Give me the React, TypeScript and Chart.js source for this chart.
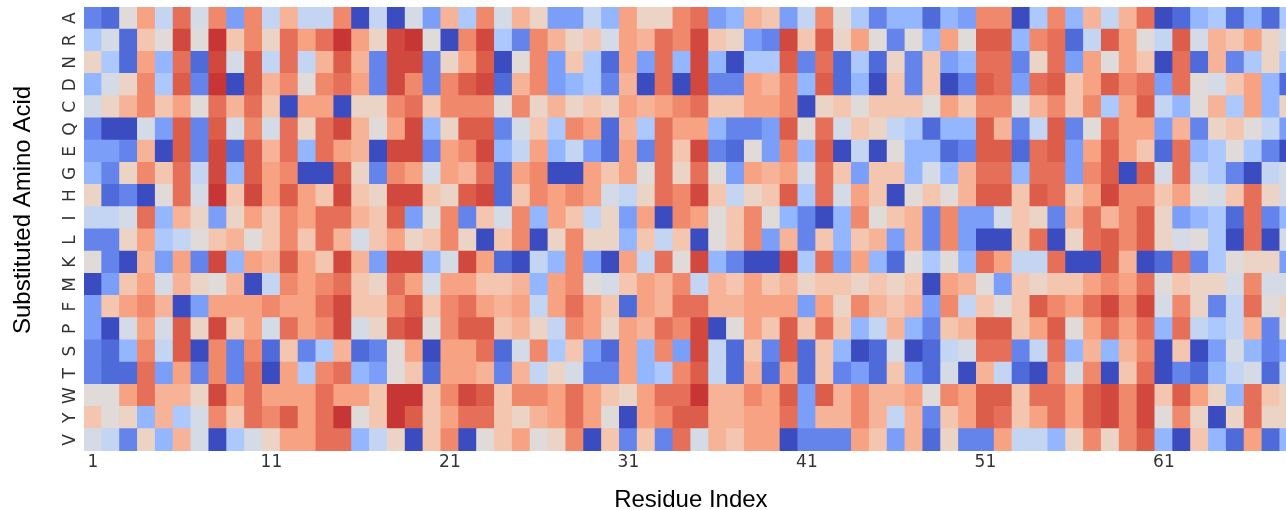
import React, { useEffect, useRef } from "react";
import { Chart, registerables } from "chart.js";

Chart.register(...registerables);

// ---- data -------------------------------------------------------------
const residueLabels: string[] = Array.from({ length: 68 }, (_, i) => String(i + 1));
const xTickLabels = ["1", "11", "21", "31", "41", "51", "61"];
const aminoAcids = ["A", "R", "N", "D", "C", "Q", "E", "G", "H", "I", "L", "K", "M", "F", "P", "S", "T", "W", "Y", "V"];
const xTitle = "Residue Index";
const yTitle = "Substituted Amino Acid";

const rowA = [-0.74, -0.86, 0.02, 0.46, -0.18, 0.69, -0.06, 0.58, -0.6, 0.58, -0.18, 0.36, -0.18, -0.18, 0.58, -1, -0.18, -1, -0.06, -0.6, 0.36, -0.32, 0.58, -0.06, 0.36, 0.12, -0.6, -0.6, -0.18, -0.46, 0.46, 0.12, 0.12, 0.58, 0.69, -0.6, -0.46, 0.36, 0.24, -0.6, -0.18, 0.58, 0.02, -0.32, -0.74, -0.46, -0.46, -0.86, -0.46, -0.6, 0.58, 0.58, -1, -0.32, 0.58, -0.46, 0.36, -0.18, 0.36, 0.69, -1, -0.86, -0.46, -0.32, -0.86, -0.46, -0.86, -0.32];
const rowR = [-0.32, -0.06, -0.86, 0.24, 0.02, 0.84, 0.02, 0.9, 0.24, 0.58, 0.12, 0.69, 0.46, 0.69, 0.9, 0.46, 0.12, 0.84, 0.9, 0.02, -1, 0.58, 0.84, -0.32, -0.74, 0.58, 0.36, 0.12, 0.24, -0.06, 0.46, 0.36, 0.69, 0.58, 0.84, 0.24, 0.12, -0.6, -0.74, 0.84, 0.24, 0.76, 0.12, 0.46, 0.02, -0.74, 0.02, -0.46, 0.46, 0.02, 0.76, 0.76, -0.46, 0.58, 0.69, -0.86, -0.18, 0.76, 0.46, 0.02, -0.18, 0.76, -0.06, 0.36, 0.24, 0.46, 0.12, -0.06];
const rowN = [0.12, -0.32, -0.86, 0.46, -0.46, 0.69, -0.86, 0.84, -0.06, 0.76, -0.18, 0.69, -0.18, 0.36, 0.76, 0.36, -0.74, 0.84, 0.84, -0.74, 0.12, 0.46, 0.76, -1, 0.02, 0.58, -0.6, 0.24, -0.32, -0.86, 0.46, -0.6, 0.69, -0.46, 0.84, -0.46, -1, -0.32, -0.32, 0.76, -0.74, 0.69, -0.86, -0.32, -0.86, 0.12, -0.74, 0.24, -0.6, -0.46, 0.69, 0.69, -0.74, 0.12, 0.69, -0.6, 0.46, 0.02, 0.46, 0.24, -1, 0.69, -0.86, 0.36, -0.74, -0.32, 0.12, -0.32];
const rowD = [-0.46, -0.06, 0.12, 0.58, -0.32, 0.76, -0.74, 0.9, -1, 0.76, 0.36, 0.58, 0.02, 0.58, 0.69, 0.46, -0.74, 0.84, 0.58, -0.74, 0.58, 0.76, 0.84, -0.86, 0.36, 0.58, -0.6, -0.46, -0.32, -0.74, 0.36, -1, 0.69, -1, 0.84, -0.74, -0.74, 0.46, 0.36, 0.58, -0.46, 0.76, -0.86, -0.46, -1, 0.24, -0.74, 0.24, -1, -0.74, 0.76, 0.69, -0.6, 0.69, 0.76, 0.24, 0.46, 0.76, 0.58, 0.69, -0.6, 0.69, 0.02, -0.06, 0.24, 0.46, -0.46, -0.86];
const rowC = [-0.06, 0.12, 0.36, 0.58, 0.24, 0.46, 0.02, 0.69, 0.36, 0.69, 0.24, -1, 0.46, 0.46, -1, 0.12, 0.12, 0.58, 0.69, 0.24, 0.58, 0.58, 0.58, 0.02, 0.58, 0.12, 0.36, 0.12, 0.24, 0.12, 0.46, 0.36, 0.46, 0.58, 0.69, 0.24, 0.24, 0.46, 0.46, 0.58, -1, 0.12, 0.24, 0.02, 0.24, 0.24, 0.24, 0.02, 0.46, 0.24, 0.58, 0.58, 0.02, 0.36, 0.58, 0.24, 0.58, -0.32, 0.46, 0.76, -0.18, -0.46, 0.02, 0.36, -0.32, 0.46, -0.46, 0.12];
const rowQ = [-0.74, -1, -1, -0.06, -0.6, 0.76, -0.74, 0.76, -0.06, 0.58, -0.06, 0.69, 0.12, 0.69, 0.84, 0.36, 0.02, 0.46, 0.84, -0.46, 0.12, 0.76, 0.76, -0.74, -0.06, 0.24, -0.32, 0.58, 0.46, -0.86, 0.36, -0.32, 0.69, 0.46, 0.46, -0.46, -0.74, -0.74, -0.6, 0.76, 0.02, 0.69, -0.06, 0.24, 0.12, -0.18, -0.32, -0.86, -0.46, -0.46, 0.76, 0.36, -0.74, -0.18, 0.76, -0.74, 0.02, 0.69, 0.46, 0.46, -0.6, 0.36, -0.74, 0.12, 0.24, 0.02, -0.18, -0.6];
const rowE = [-0.6, -0.6, -0.74, 0.36, -1, 0.76, -0.74, 0.84, -0.86, 0.76, 0.36, 0.69, -0.46, 0.69, 0.46, 0.36, -1, 0.84, 0.84, -0.74, 0.46, 0.58, 0.84, -0.46, -0.18, 0.46, -0.46, -0.18, -0.6, -0.86, 0.46, -0.74, 0.69, 0.24, 0.84, -0.74, -0.86, 0.02, -0.6, 0.58, -0.46, 0.76, -1, -0.18, -1, 0.02, -0.46, -0.46, -0.86, -0.74, 0.76, 0.76, -0.86, 0.69, 0.76, -0.6, 0.46, 0.76, 0.46, 0.24, -0.86, 0.69, -0.46, -0.32, 0.02, -0.32, -0.74, -1];
const rowG = [-0.46, -0.74, 0.12, 0.58, 0.24, 0.69, -0.18, 0.84, -0.46, 0.76, 0.46, 0.58, -1, -1, 0.76, 0.12, -0.74, 0.58, 0.46, -0.06, 0.46, 0.36, 0.69, -0.86, 0.46, 0.58, -1, -1, 0.46, 0.24, 0.46, 0.02, 0.69, 0.12, 0.69, 0.02, -0.6, 0.46, 0.36, 0.46, -0.06, 0.69, 0.24, -0.6, 0.24, 0.24, -0.46, -0.06, -0.46, 0.36, 0.69, 0.69, -0.46, 0.69, 0.69, -0.6, 0.58, 0.76, -1, 0.76, -0.06, 0.69, -0.18, -0.32, -0.74, -1, -0.18, -0.06];
const rowH = [0.12, -0.86, -0.74, -1, 0.02, 0.69, -0.06, 0.9, 0.24, 0.84, 0.46, 0.76, 0.46, 0.24, 0.84, 0.24, 0.12, 0.84, 0.84, 0.24, 0.12, 0.76, 0.84, -0.86, 0.24, 0.58, 0.46, 0.58, 0.46, -0.06, -0.18, 0.12, 0.69, 0.58, 0.84, 0.24, -0.18, 0.12, 0.24, 0.76, -0.32, 0.69, -0.06, 0.46, 0.24, -1, 0.02, 0.24, 0.02, 0.36, 0.76, 0.76, 0.24, 0.76, 0.69, 0.24, 0.46, 0.84, 0.58, 0.58, 0.24, 0.46, 0.02, -0.06, 0.24, 0.69, 0.12, -0.06];
const rowI = [-0.18, -0.18, -0.06, 0.69, -0.46, 0.36, 0.12, -0.6, 0.12, 0.46, 0.24, 0.58, 0.46, 0.69, 0.69, 0.36, 0.24, 0.76, -0.6, 0.02, 0.58, -0.74, 0.24, -0.06, 0.58, -0.46, 0.46, 0.24, -0.18, 0.12, -0.6, 0.46, -1, 0.58, 0.46, 0.02, 0.24, 0.58, 0.02, -0.46, -0.74, -1, -0.46, 0.58, 0.02, 0.24, 0.36, -0.74, 0.58, -0.6, -0.6, -0.06, 0.24, 0.12, -0.74, 0.36, 0.69, 0.36, 0.58, 0.76, 0.12, -0.6, -0.46, -0.32, -0.86, 0.69, -0.74, -0.46];
const rowL = [-0.74, -0.74, 0.12, 0.46, -0.32, -0.18, 0.02, 0.24, 0.36, 0.02, 0.24, 0.58, 0.24, 0.69, 0.36, -0.06, 0.24, 0.46, 0.12, 0.24, 0.58, 0.12, -1, 0.24, 0.58, -1, 0.12, 0.58, 0.12, 0.12, -0.46, 0.24, -0.18, 0.24, -1, 0.02, 0.24, 0.58, -0.6, 0.36, -0.74, 0.24, -0.46, 0.24, 0.36, -0.6, 0.36, -0.74, 0.58, -0.6, -1, -1, 0.24, 0.69, -1, 0.12, 0.69, 0.76, 0.58, 0.76, 0.12, -0.06, 0.02, -0.32, -1, 0.69, -1, -0.06];
const rowK = [0.02, -0.74, -1, 0.36, -0.6, 0.46, -0.74, 0.84, -0.46, 0.46, 0.36, 0.76, 0.46, 0.24, 0.84, 0.36, -0.6, 0.84, 0.84, -0.46, -0.06, 0.84, 0.46, -0.86, -1, -0.18, -0.46, 0.58, -0.6, -1, 0.46, -0.18, 0.69, 0.02, 0.84, -0.46, -0.74, -1, -1, 0.84, -0.32, 0.69, -0.6, 0.46, -0.46, -0.86, 0.02, -0.32, 0.02, -0.46, 0.69, 0.46, -0.18, -0.18, 0.69, -1, -1, 0.76, 0.36, -1, -0.86, 0.69, -0.74, -0.32, 0.02, 0.12, 0.12, -0.6];
const rowM = [-1, -0.6, 0.24, 0.46, -0.06, 0.36, 0.12, 0.02, 0.36, -1, -0.18, 0.58, 0.46, 0.58, 0.69, 0.24, 0.12, 0.69, 0.46, -0.06, 0.46, 0.46, 0.24, 0.24, 0.36, -0.46, 0.46, 0.58, 0.02, -0.06, 0.24, 0.46, 0.36, 0.58, -0.18, 0.36, 0.24, 0.46, 0.24, 0.36, 0.12, 0.24, 0.24, 0.12, 0.24, 0.12, 0.24, -1, 0.46, 0.36, 0.02, -0.6, 0.24, 0.12, 0.24, 0.24, 0.46, 0.58, 0.46, 0.69, 0.02, 0.24, 0.12, 0.12, -0.06, 0.58, -0.06, -0.06];
const rowF = [-0.6, 0.24, 0.46, 0.58, 0.36, -1, -0.6, 0.46, 0.46, 0.46, 0.58, 0.46, 0.46, 0.69, 0.84, 0.24, 0.24, 0.58, 0.76, 0.24, 0.58, 0.69, 0.46, 0.36, 0.46, -0.18, 0.46, 0.69, 0.46, 0.24, -0.86, 0.46, 0.36, 0.69, 0.69, 0.36, 0.36, 0.46, 0.46, 0.46, -0.6, 0.46, 0.12, 0.58, 0.36, 0.24, 0.36, -0.6, 0.58, -0.18, 0.24, 0.02, 0.24, 0.76, 0.58, 0.46, 0.69, 0.84, 0.58, 0.84, -0.06, 0.58, 0.12, -0.74, -0.18, 0.69, 0.02, 0.12];
const rowP = [-0.6, -1, -0.06, 0.46, -0.06, 0.76, 0.12, 0.84, 0.24, 0.46, -0.06, 0.69, 0.46, 0.58, 0.84, -0.06, 0.12, 0.76, 0.84, 0.02, 0.58, 0.76, 0.76, 0.24, 0.36, 0.12, -0.18, 0.58, 0.46, 0.12, 0.46, 0.36, 0.69, 0.58, 0.84, -1, 0.02, 0.46, 0.24, 0.76, 0.24, 0.69, 0.24, -0.46, -0.18, 0.36, -0.46, -0.74, 0.24, 0.36, 0.76, 0.76, 0.24, 0.46, 0.76, 0.02, 0.46, 0.69, 0.46, 0.69, -0.46, 0.69, -0.18, -0.32, -0.18, 0.36, -0.74, 0.02];
const rowS = [-0.74, -0.86, -0.46, 0.58, -0.18, 0.76, -1, 0.58, -0.74, 0.58, -0.86, 0.24, -0.74, -0.32, 0.36, -0.86, -0.74, 0.02, 0.46, -1, 0.46, 0.46, 0.69, -0.86, -0.06, 0.58, -0.32, 0.24, -0.6, -0.86, 0.46, -0.46, 0.58, -0.6, 0.84, -0.18, -0.86, 0.24, -0.74, 0.76, -0.86, 0.24, -0.46, -1, -0.86, -0.06, -1, -0.86, -0.18, -0.06, 0.69, 0.69, -0.74, -0.18, 0.69, -0.46, 0.36, -0.46, 0.36, 0.58, -1, 0.24, -1, -0.6, -0.06, -0.46, -0.74, -0.6];
const rowT = [-0.74, -0.86, -0.86, 0.69, -0.6, 0.46, -0.74, 0.58, -0.74, 0.69, -1, 0.46, -0.32, 0.58, 0.69, -0.46, -0.6, 0.02, 0.24, -0.86, 0.46, 0.46, 0.36, -0.74, 0.36, -0.18, 0.12, -0.06, -0.74, -0.74, 0.46, -0.46, -0.32, 0.58, 0.76, -0.18, -0.86, 0.36, -0.86, 0.46, -0.86, 0.24, -0.74, -0.6, -0.86, 0.24, -0.6, -0.86, -0.06, -1, 0.36, -0.18, -0.86, -1, 0.58, -0.06, 0.58, -1, 0.24, 0.69, -1, -0.74, -0.86, -0.46, -0.18, -0.06, -0.86, -0.18];
const rowW = [0.02, 0.02, 0.46, 0.69, 0.36, 0.36, 0.12, 0.84, 0.46, 0.69, 0.46, 0.46, 0.46, 0.69, 0.46, 0.46, 0.24, 0.9, 0.9, 0.24, 0.58, 0.84, 0.76, 0.24, 0.58, 0.58, 0.46, 0.69, 0.46, 0.24, 0.12, 0.46, 0.69, 0.69, 0.9, 0.36, 0.36, 0.58, 0.46, 0.76, -0.6, 0.76, 0.36, 0.58, 0.36, 0.36, 0.46, 0.02, 0.58, 0.46, 0.76, 0.76, 0.24, 0.69, 0.69, 0.46, 0.76, 0.84, 0.58, 0.84, 0.24, 0.76, 0.46, 0.12, -0.46, 0.69, 0.24, 0.12];
const rowY = [0.24, 0.02, 0.12, -0.46, 0.36, -0.32, -0.06, 0.58, 0.24, 0.69, 0.58, 0.76, 0.46, 0.69, 0.9, 0.02, 0.24, 0.9, 0.76, 0.24, 0.46, 0.69, 0.69, 0.24, 0.12, 0.36, 0.46, 0.69, 0.46, 0.02, -1, 0.46, 0.58, 0.76, 0.76, 0.36, 0.36, 0.46, 0.46, 0.69, -0.6, 0.36, 0.36, 0.58, 0.36, -0.18, 0.36, -0.74, 0.24, 0.46, 0.76, 0.69, 0.24, 0.46, 0.69, 0.46, 0.76, 0.84, 0.58, 0.84, 0.02, 0.58, 0.12, -1, 0.12, 0.69, 0.12, 0.12];
const rowV = [-0.06, -0.18, -0.74, 0.12, -0.46, 0.36, -0.06, -1, -0.32, -0.06, 0.12, 0.46, 0.46, 0.69, 0.69, -0.46, -0.18, 0.12, -1, 0.24, 0.58, -1, 0.02, 0.24, 0.46, 0.02, 0.12, 0.58, -1, 0.24, -0.74, 0.24, -0.74, 0.69, -0.06, 0.36, 0.24, 0.46, 0.46, -1, -0.74, -0.74, -0.74, 0.46, 0.24, -0.6, 0.36, -0.86, 0.12, -0.74, -0.74, 0.46, -0.18, -0.18, -0.46, 0.12, 0.58, 0.12, 0.58, 0.76, -0.46, -1, 0.24, -0.46, -0.86, 0.46, -0.86, -0.46];

const rows = [rowA, rowR, rowN, rowD, rowC, rowQ, rowE, rowG, rowH, rowI, rowL, rowK, rowM, rowF, rowP, rowS, rowT, rowW, rowY, rowV];
const vMin = -1;
const vMax = 1;

// matplotlib "coolwarm" colormap control points
const COOLWARM: number[][] = [
  [59, 76, 192], [68, 90, 204], [77, 104, 215], [87, 117, 225], [98, 130, 234],
  [108, 142, 241], [119, 154, 247], [130, 165, 251], [141, 176, 254], [152, 185, 255],
  [163, 194, 255], [174, 201, 253], [184, 208, 249], [194, 213, 244], [204, 217, 238],
  [213, 219, 230], [221, 221, 221], [229, 216, 209], [236, 211, 197], [241, 204, 185],
  [245, 196, 173], [247, 187, 160], [247, 177, 148], [247, 166, 135], [244, 154, 123],
  [241, 141, 111], [236, 127, 99], [229, 112, 88], [222, 96, 77], [213, 80, 66],
  [203, 62, 56], [192, 40, 47], [180, 4, 38],
];

function coolwarm(t: number): string {
  const c = Math.max(0, Math.min(1, t)) * (COOLWARM.length - 1);
  const i = Math.min(COOLWARM.length - 2, Math.floor(c));
  const f = c - i;
  const a = COOLWARM[i];
  const b = COOLWARM[i + 1];
  const r = Math.round(a[0] + (b[0] - a[0]) * f);
  const g = Math.round(a[1] + (b[1] - a[1]) * f);
  const bl = Math.round(a[2] + (b[2] - a[2]) * f);
  return `rgb(${r},${g},${bl})`;
}

const yTitlePlugin = {
  id: "yTitleDraw",
  afterDraw(chart: any) {
    const ctx = chart.ctx;
    ctx.save();
    ctx.translate(30, 210);
    ctx.rotate(-Math.PI / 2);
    ctx.font = '24px "Liberation Sans", Arial, sans-serif';
    ctx.fillStyle = "#000";
    ctx.textAlign = "center";
    ctx.textBaseline = "alphabetic";
    ctx.fillText(yTitle, 0, 0);
    ctx.restore();
  },
};

export default function App() {
  const ref = useRef<HTMLCanvasElement | null>(null);

  useEffect(() => {
    if (!ref.current) return;
    const nRows = aminoAcids.length;
    const datasets = aminoAcids
      .map((aa, r) => ({
        label: aa,
        data: rows[r].map(() => 1),
        backgroundColor: rows[r].map((v) => coolwarm((v - vMin) / (vMax - vMin))),
        borderWidth: 0,
        barPercentage: 1,
        categoryPercentage: 1,
        inflateAmount: 0.5,
      }))
      .reverse();

    const tickFont = { family: '"DejaVu Sans", sans-serif', size: 17 };

    const chart = new Chart(ref.current, {
      type: "bar",
      data: { labels: residueLabels, datasets },
      plugins: [yTitlePlugin],
      options: {
        responsive: false,
        animation: false,
        devicePixelRatio: 1,
        layout: { padding: { top: 7, right: 12.2, left: 0, bottom: 0 } },
        plugins: { legend: { display: false }, tooltip: { enabled: false } },
        scales: {
          x: {
            type: "category",
            stacked: true,
            offset: true,
            grid: { display: false, drawTicks: false },
            border: { display: false },
            ticks: {
              autoSkip: false,
              maxRotation: 0,
              minRotation: 0,
              padding: 1,
              color: "#333333",
              font: tickFont,
              callback: (_v: any, i: number) =>
                xTickLabels.includes(residueLabels[i]) ? residueLabels[i] : "",
            },
            title: {
              display: true,
              text: xTitle,
              color: "#000000",
              font: { family: '"Liberation Sans", Arial, sans-serif', size: 24 },
              padding: { top: 0, bottom: 5 },
            },
            afterFit: (s: any) => {
              s.height = 69;
              s.paddingLeft = 0;
              s.paddingRight = 0;
            },
          },
          y: {
            type: "linear",
            stacked: true,
            min: 0,
            max: nRows,
            grid: { display: false, drawTicks: false },
            border: { display: false },
            afterBuildTicks: (s: any) => {
              s.ticks = aminoAcids.map((_, i) => ({ value: nRows - 0.5 - i }));
            },
            ticks: {
              autoSkip: false,
              minRotation: 90,
              maxRotation: 90,
              crossAlign: "center",
              padding: 5,
              color: "#333333",
              font: tickFont,
              callback: (v: any) => aminoAcids[Math.round(nRows - 0.5 - Number(v))],
            },
            afterFit: (s: any) => {
              s.width = 84;
              s.paddingTop = 0;
              s.paddingBottom = 0;
            },
          },
        },
      } as any,
    });
    return () => chart.destroy();
  }, []);

  return (
    <div
      style={{
        position: "fixed",
        left: 0,
        top: 0,
        width: 1286,
        height: 510,
        overflow: "hidden",
        background: "#ffffff",
      }}
    >
      <canvas ref={ref} width={1310} height={520} style={{ display: "block", width: 1310, height: 520 }} />
    </div>
  );
}
